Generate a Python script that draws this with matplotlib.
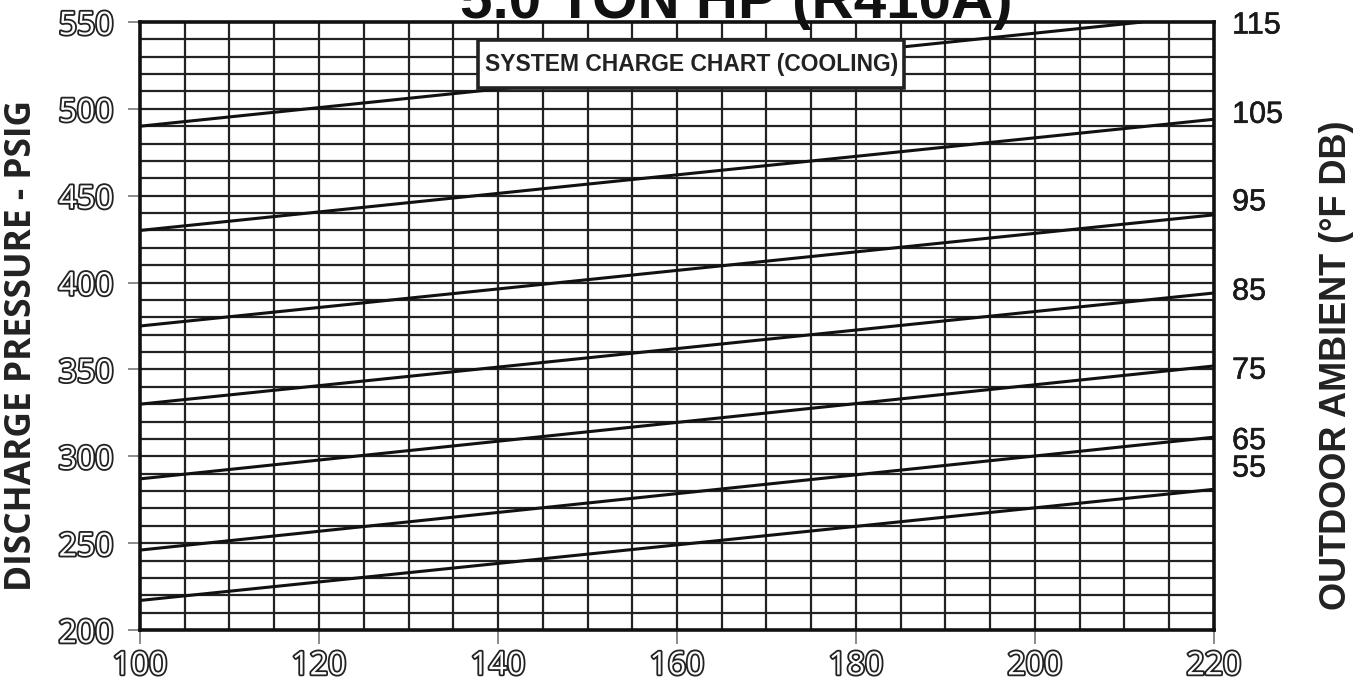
import matplotlib
matplotlib.use("Agg")
import matplotlib.pyplot as plt
import matplotlib.patheffects as pe
from matplotlib.patches import Rectangle
import numpy as np

# outdoor ambient lines: (x, psig) at left and right end
ambient = [115, 105, 95, 85, 75, 65, 55]
x_left = [100, 100, 100, 100, 100, 100, 100]
y_left = [490, 430, 375, 330, 287, 246, 217]
x_right = [212, 220, 220, 220, 220, 220, 220]
y_right = [550, 494, 439, 394, 352, 311, 281]

# where the ambient labels sit on the right side (psig)
label_psig = [554, 502, 451, 399, 353, 312, 296]

x_ticks = [100, 120, 140, 160, 180, 200, 220]
y_ticks = [200, 250, 300, 350, 400, 450, 500, 550]

W, H = 1364, 689
fig = plt.figure(figsize=(W / 100, H / 100), dpi=100)
ax = fig.add_axes([140 / W, 1 - 630 / H, (1214 - 140) / W, (630 - 22) / H])

ax.set_xlim(100, 220)
ax.set_ylim(200, 550)

# chart grid
for gx in np.arange(105, 220, 5):
    ax.axvline(gx, color="#222222", lw=1.6, zorder=1)
for gy in np.arange(210, 550, 10):
    ax.axhline(gy, color="#222222", lw=1.6, zorder=1)

for i in range(len(ambient)):
    ax.plot([x_left[i], x_right[i]], [y_left[i], y_right[i]],
            color="#111111", lw=2.2, zorder=3, solid_capstyle="butt")

for s in ax.spines.values():
    s.set_linewidth(2.6)
    s.set_color("#111111")

outline = [pe.withStroke(linewidth=2.6, foreground="#222222")]
ax.set_xticks(x_ticks)
ax.set_yticks(y_ticks)
ax.set_xticklabels([str(v) for v in x_ticks], fontsize=23, color="white",
                   family="Open Sans", path_effects=outline)
ax.set_yticklabels([str(v) for v in y_ticks], fontsize=23, color="white",
                   family="Open Sans", path_effects=outline)
ax.tick_params(axis="x", length=10, width=1.2, color="#777777", pad=4, direction="out")
ax.tick_params(axis="y", length=9, width=1.2, color="#777777", pad=10, direction="out")

ax2 = ax.twinx()
ax2.set_ylim(200, 550)
ax2.set_yticks(label_psig)
ax2.set_yticklabels([str(v) for v in ambient], fontsize=22, color="#1a1a1a",
                    family="Liberation Sans",
                    path_effects=[pe.withStroke(linewidth=0.4, foreground="#1a1a1a")])
ax2.tick_params(axis="y", length=0, pad=13)
for s in ax2.spines.values():
    s.set_visible(False)

# axis titles
fig.text(22 / W, 1 - 345 / H, "DISCHARGE PRESSURE - PSIG", rotation=90,
         ha="center", va="center", fontsize=25.5, fontweight="bold",
         family="Open Sans", color="#222222")
fig.text(1337 / W, 1 - 365 / H, "OUTDOOR AMBIENT (\u00b0F DB)", rotation=90,
         ha="center", va="center", fontsize=26, fontweight="bold",
         family="Liberation Sans", color="#222222")

# label box
ax.add_patch(Rectangle((137.8, 512), 185.4 - 137.8, 539.6 - 512,
                       facecolor="white", edgecolor="#222222", linewidth=2.6, zorder=5))
ax.text(161.6, 525.8, "SYSTEM CHARGE CHART (COOLING)", ha="center", va="center",
        fontsize=16.5, fontweight="bold", family="Liberation Sans", color="#222222",
        zorder=6)

# title sits partly above the top edge, as in the source scan
fig.text(736 / W, 1 - 18 / H, "5.0 TON HP (R410A)", ha="center", va="baseline",
         fontsize=42, fontweight="bold", family="Liberation Sans", color="#111111")

fig.savefig("out.png", dpi=100)
